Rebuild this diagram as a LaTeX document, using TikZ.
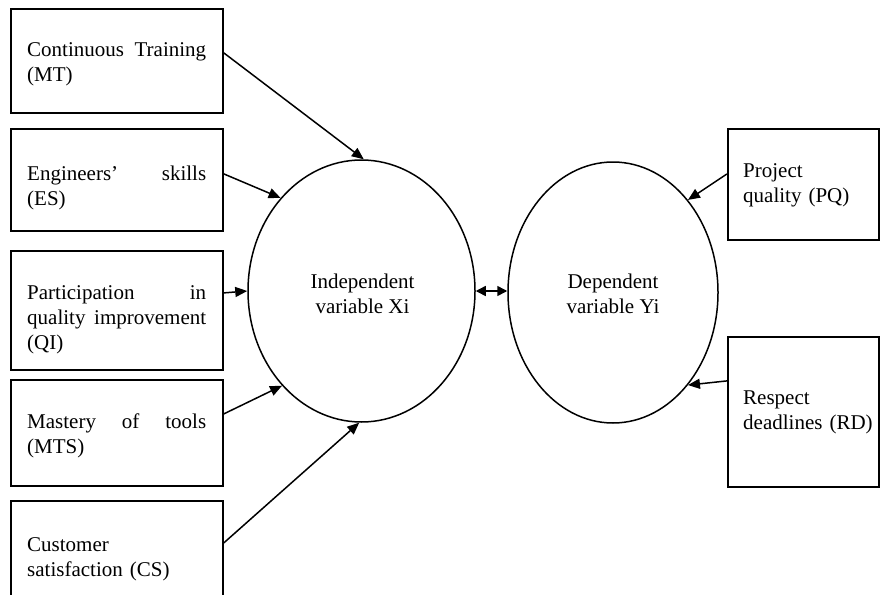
\documentclass[tikz,border=0pt]{standalone}
\usepackage{fontspec}
\setmainfont{Liberation Serif}
\usetikzlibrary{arrows.meta,shapes.geometric}
\begin{document}
\begin{tikzpicture}[x=1pt,y=-1pt,
  box/.style={draw,line width=1.8pt,inner sep=0pt,anchor=north west},
  ell/.style={draw,ellipse,line width=1.5pt,inner sep=0pt},
  txt/.style={anchor=north west,inner sep=0pt,text width=179pt,font=\fontsize{21}{25}\selectfont},
  jtxt/.style={txt,align=justify},
  ltxt/.style={txt,align=left},
  ctxt/.style={anchor=north,inner sep=0pt,align=center,font=\fontsize{21}{25}\selectfont},
  arr/.style={line width=1.5pt,-{Triangle[length=12pt,width=10pt]}},
  darr/.style={line width=1.5pt,{Triangle[length=10pt,width=10pt]}-{Triangle[length=10pt,width=10pt]}}
]
\clip (0,0) rectangle (880,594);
\fill[white] (0,0) rectangle (880,594);

% left boxes
\node[box,minimum width=212pt,minimum height=104pt] (mt) at (10,8) {};
\node[box,minimum width=212pt,minimum height=102pt] (es) at (10,128) {};
\node[box,minimum width=212pt,minimum height=119pt] (qi) at (10,250) {};
\node[box,minimum width=212pt,minimum height=106pt] (mts) at (10,379) {};
\node[box,minimum width=212pt,minimum height=104pt] (cs) at (10,500) {};
% right boxes
\node[box,minimum width=151pt,minimum height=111pt] (pq) at (727,128) {};
\node[box,minimum width=151pt,minimum height=150pt] (rd) at (727,336) {};

% texts
\node[jtxt] (tmt) at (27,42.5) {Continuous Training\linebreak (MT)};
\node[jtxt] (tes) at (27,165.5) {Engineers'\ skills\linebreak (ES)};
\node[jtxt] (tqi) at (27,285.5) {Participation in\linebreak quality improvement\linebreak (QI)};
\node[jtxt] (tmts) at (27,413.5) {Mastery of tools\linebreak (MTS)};
\node[ltxt] (tcs) at (27,537.5) {Customer\\satisfaction (CS)};
\node[ltxt] (tpq) at (743,163.5) {Project\\quality (PQ)};
\node[ltxt] (trd) at (743,390.5) {Respect\\deadlines (RD)};

% ellipses
\node[ell,minimum width=227pt,minimum height=262pt] (xi) at (361.5,291) {};
\node[ell,minimum width=210pt,minimum height=261pt] (yi) at (613,292.5) {};
\node[ctxt] (txi) at (362.5,273.5) {Independent\\variable Xi};
\node[ctxt] (tyi) at (613,273.5) {Dependent\\variable Yi};

% arrows
\draw[arr] ([yshift=8pt]mt.east) -- (xi.89);
\draw[arr] ([yshift=6pt]es.east) -- (xi.131);
\draw[arr] ([yshift=17.5pt]qi.east) -- (xi.180);
\draw[arr] ([yshift=19pt]mts.east) -- (xi.230);
\draw[arr] ([yshift=10pt]cs.east) -- (xi.269);
\draw[arr] ([yshift=10.5pt]pq.west) -- (yi.51);
\draw[arr] ([yshift=31pt]rd.west) -- (yi.-51);
\draw[darr] (xi.east) -- (xi.east -| yi.west);
\end{tikzpicture}
\end{document}
